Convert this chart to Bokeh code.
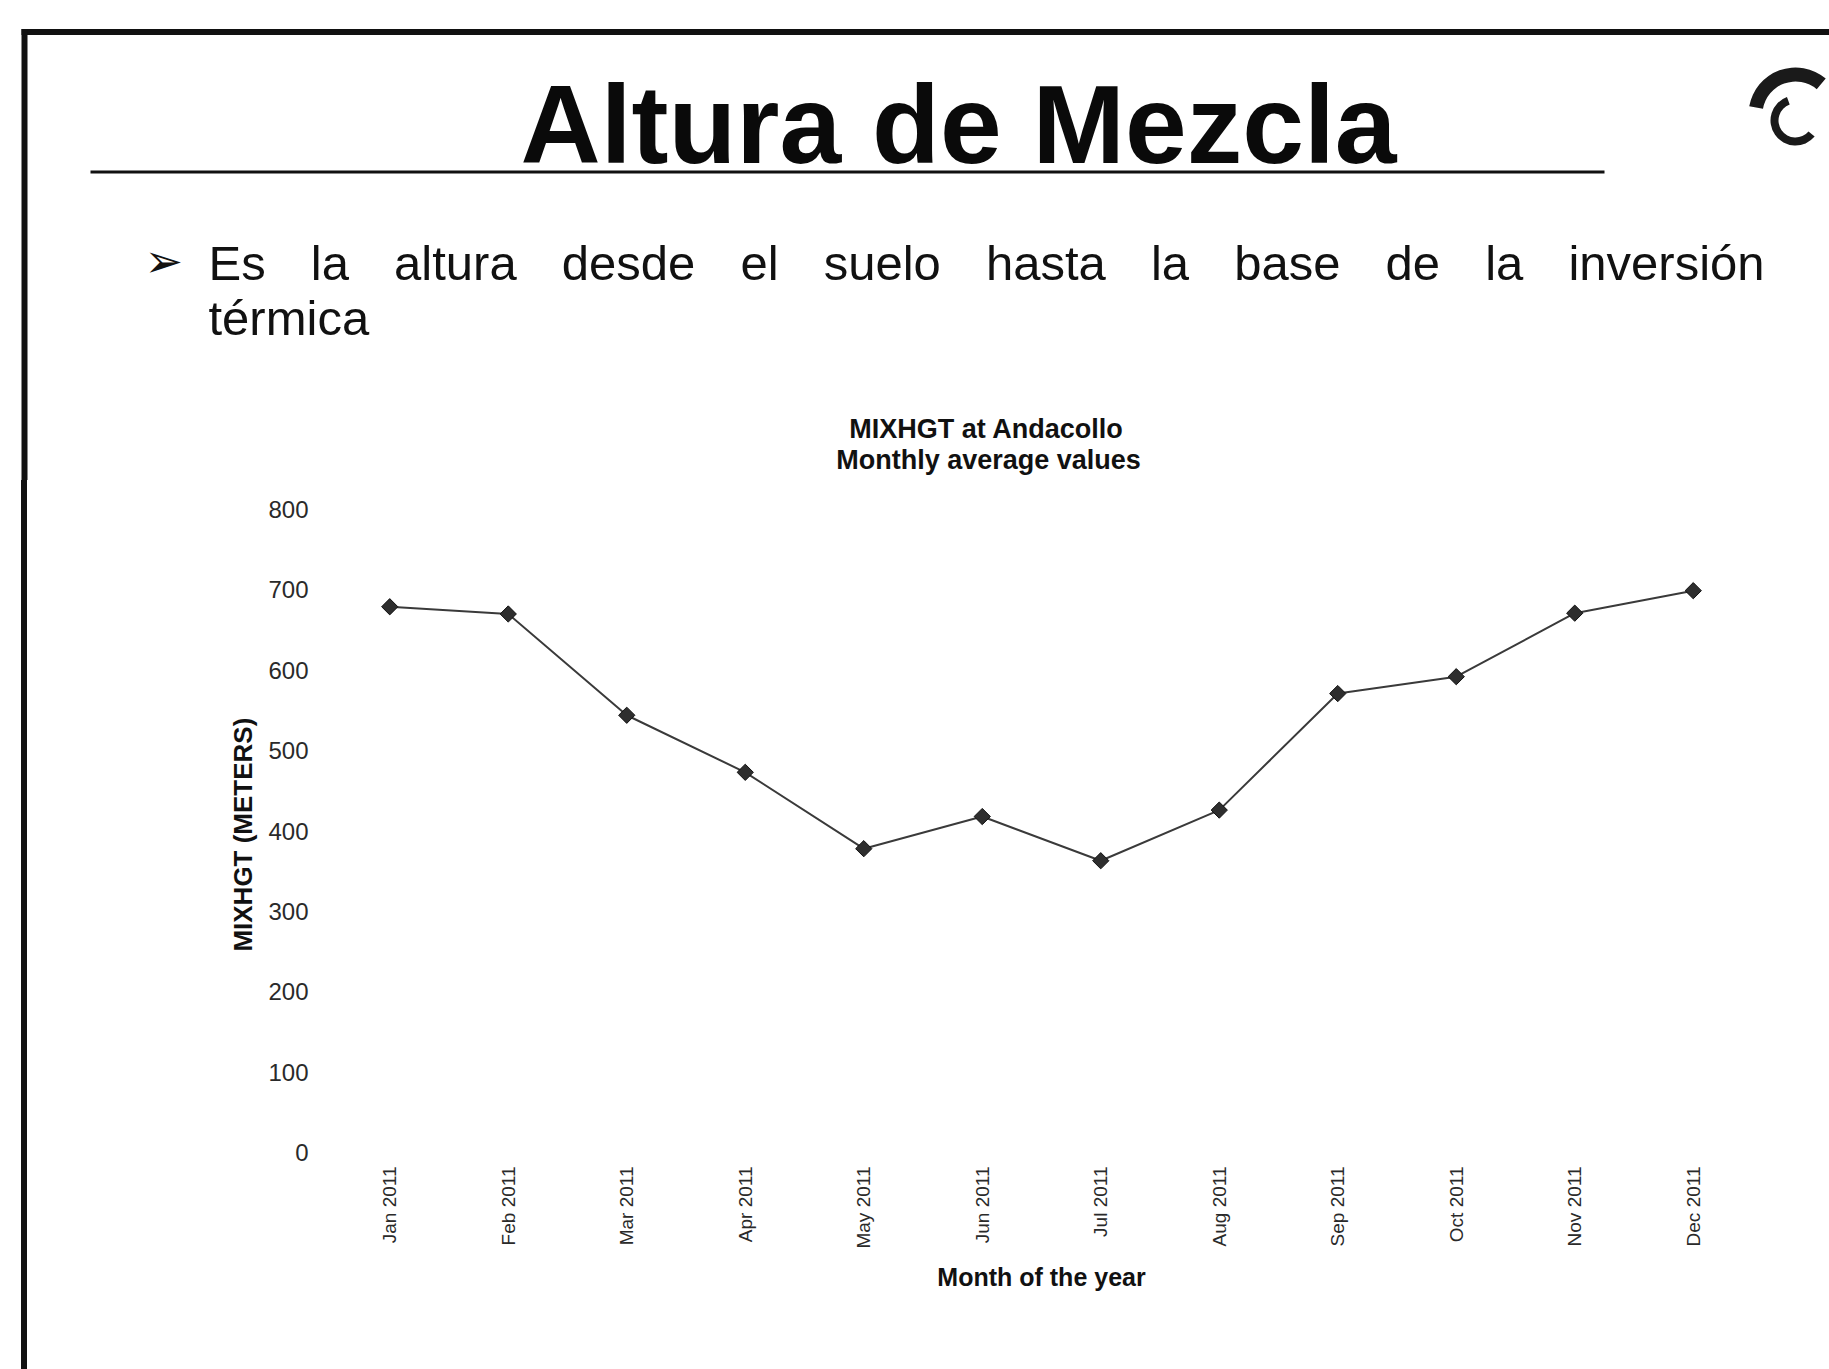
import math
from bokeh.plotting import figure
from bokeh.layouts import column, row
from bokeh.models import FactorRange, Range1d, FixedTicker, Spacer
from bokeh.core.properties import value
from bokeh.embed import file_html
from bokeh.resources import INLINE

# ---------------- data ----------------
months = ["Jan 2011", "Feb 2011", "Mar 2011", "Apr 2011", "May 2011", "Jun 2011",
          "Jul 2011", "Aug 2011", "Sep 2011", "Oct 2011", "Nov 2011", "Dec 2011"]
mixhgt = [679, 670, 544, 473, 378, 418, 363, 426, 571, 592, 671, 699]
y_ticks = [0, 100, 200, 300, 400, 500, 600, 700, 800]

slide_title = "Altura de Mezcla"
bullet_words = ["Es", "la", "altura", "desde", "el", "suelo", "hasta", "la",
                "base", "de", "la", "inversión"]
bullet_word_em = [1.167, 0.778, 2.501, 2.724, 0.778, 2.39, 2.446, 0.778,
                  2.168, 1.112, 0.778, 4.001]
bullet_line2 = "térmica"
chart_title = ["MIXHGT at Andacollo", "Monthly average values"]
x_label = "Month of the year"
y_label = "MIXHGT  (METERS)"

# ---------------- layout (page px) ----------------
W, H = 1829, 1369
HEADER_H = 480          # header strip (slide title, bullet, chart title)
EDGE_X, EDGE_W, EDGE_GAP = 21, 6, 13
STRIP_W = EDGE_X + EDGE_W + EDGE_GAP
FRAME_L, FRAME_R, FRAME_T, FRAME_B = 330, 1752, 509, 1152
FONT = "Liberation Sans"
INK = "#111111"
MID = 0.3465            # baseline -> middle offset (em)

# ---------------- header figure (pixel coordinates) ----------------
hd = figure(width=W, height=HEADER_H, x_range=Range1d(0, W), y_range=Range1d(0, HEADER_H),
            output_backend="svg", toolbar_location=None,
            x_axis_location=None, y_axis_location=None,
            min_border=0, min_border_left=0, min_border_right=0,
            min_border_top=0, min_border_bottom=0)
hd.outline_line_color = None
hd.xgrid.grid_line_color = None
hd.ygrid.grid_line_color = None
hd.background_fill_color = "white"
hd.border_fill_color = "white"


def fy(Y):
    return HEADER_H - Y


def mid(base, size):
    return fy(base - MID * size)


# slide frame edges and title underline
hd.quad(left=[EDGE_X, EDGE_X, 90], right=[W, EDGE_X + EDGE_W, 1604],
        top=[fy(28.5), fy(28.5), fy(170)], bottom=[fy(34.5), fy(HEADER_H), fy(173)],
        fill_color=INK, line_color=None)

# logo (rough sketch)
hd.annular_wedge(x=[1795], y=[fy(114)], inner_radius=33, outer_radius=47,
                 start_angle=math.radians(50), end_angle=math.radians(170),
                 fill_color="#1a1a1a", line_color=None)
hd.annular_wedge(x=[1795], y=[fy(120)], inner_radius=17, outer_radius=25,
                 start_angle=math.radians(110), end_angle=math.radians(320),
                 fill_color="#1a1a1a", line_color=None)

# slide title
TS = 111
hd.text(x=[958], y=[mid(163, TS)], text=[slide_title], text_align="center",
        text_baseline="middle", text_font=value(FONT), text_font_style="bold",
        text_font_size=f"{TS}px", text_color="#0a0a0a")

# bullet arrow
hd.text(x=[144], y=[fy(260)], text=["➢"], text_align="left", text_baseline="middle",
        text_font=value("DejaVu Sans"), text_font_size="46px", text_color=INK)

# justified first bullet line (even gaps between words)
FS = 49
x0, x1 = 208, 1764
gap = (x1 - x0 - sum(bullet_word_em) * FS) / (len(bullet_words) - 1)
word_x = []
cur = x0
for em in bullet_word_em:
    word_x.append(cur)
    cur += em * FS + gap
hd.text(x=word_x, y=[mid(279, FS)] * len(word_x), text=bullet_words, text_align="left",
        text_baseline="middle", text_font=value(FONT),
        text_font_size=f"{FS}px", text_color=INK)
hd.text(x=[208], y=[mid(334, FS)], text=[bullet_line2], text_align="left",
        text_baseline="middle", text_font=value(FONT),
        text_font_size=f"{FS}px", text_color=INK)

# chart title (two centred lines)
CT = 27
hd.text(x=[986, 988], y=[mid(438, CT), mid(469, CT)], text=chart_title,
        text_align="center", text_baseline="middle", text_font=value(FONT),
        text_font_style="bold", text_font_size=f"{CT}px", text_color=INK)

# ---------------- chart ----------------
CH = H - HEADER_H
CW = W - STRIP_W
p = figure(width=CW, height=CH,
           x_range=FactorRange(factors=months, range_padding=0),
           y_range=Range1d(0, 800),
           output_backend="svg", toolbar_location=None,
           min_border_left=FRAME_L - STRIP_W, min_border_right=W - FRAME_R,
           min_border_top=FRAME_T - HEADER_H, min_border_bottom=H - FRAME_B)
p.background_fill_color = "white"
p.border_fill_color = "white"
p.outline_line_color = None
p.xgrid.grid_line_color = None
p.ygrid.grid_line_color = None

p.line(months, mixhgt, line_color="#3a3a3a", line_width=2)
p.scatter(months, mixhgt, marker="square", size=11.5, angle=math.pi / 4,
          fill_color="#2e2e2e", line_color="#111111", line_width=1)

for ax in (p.xaxis[0], p.yaxis[0]):
    ax.axis_line_color = None
    ax.major_tick_line_color = None
    ax.minor_tick_line_color = None
    ax.major_tick_in = 0
    ax.major_tick_out = 0
    ax.minor_tick_in = 0
    ax.minor_tick_out = 0
    ax.major_label_text_font = FONT
    ax.major_label_text_color = "#2a2a2a"
    ax.axis_label_text_font = FONT
    ax.axis_label_text_font_style = "bold"
    ax.axis_label_text_color = INK

p.yaxis[0].ticker = FixedTicker(ticks=y_ticks)
p.yaxis[0].major_label_text_font_size = "24px"
p.yaxis[0].major_label_standoff = 22
p.yaxis[0].axis_label = y_label
p.yaxis[0].axis_label_text_font_size = "26px"
p.yaxis[0].axis_label_standoff = 7

p.xaxis[0].major_label_orientation = math.pi / 2
p.xaxis[0].major_label_text_font_size = "19px"
p.xaxis[0].major_label_standoff = 14
p.xaxis[0].axis_label = x_label
p.xaxis[0].axis_label_text_font_size = "25px"
p.xaxis[0].axis_label_standoff = 11

# left slide edge continues below the header
edge = Spacer(width=EDGE_W, height=CH, styles={"background-color": INK})
layout = column(hd,
                row(Spacer(width=EDGE_X, height=CH), edge,
                    Spacer(width=EDGE_GAP, height=CH), p, spacing=0),
                spacing=0)
open("out.html", "w").write(file_html(layout, INLINE))
